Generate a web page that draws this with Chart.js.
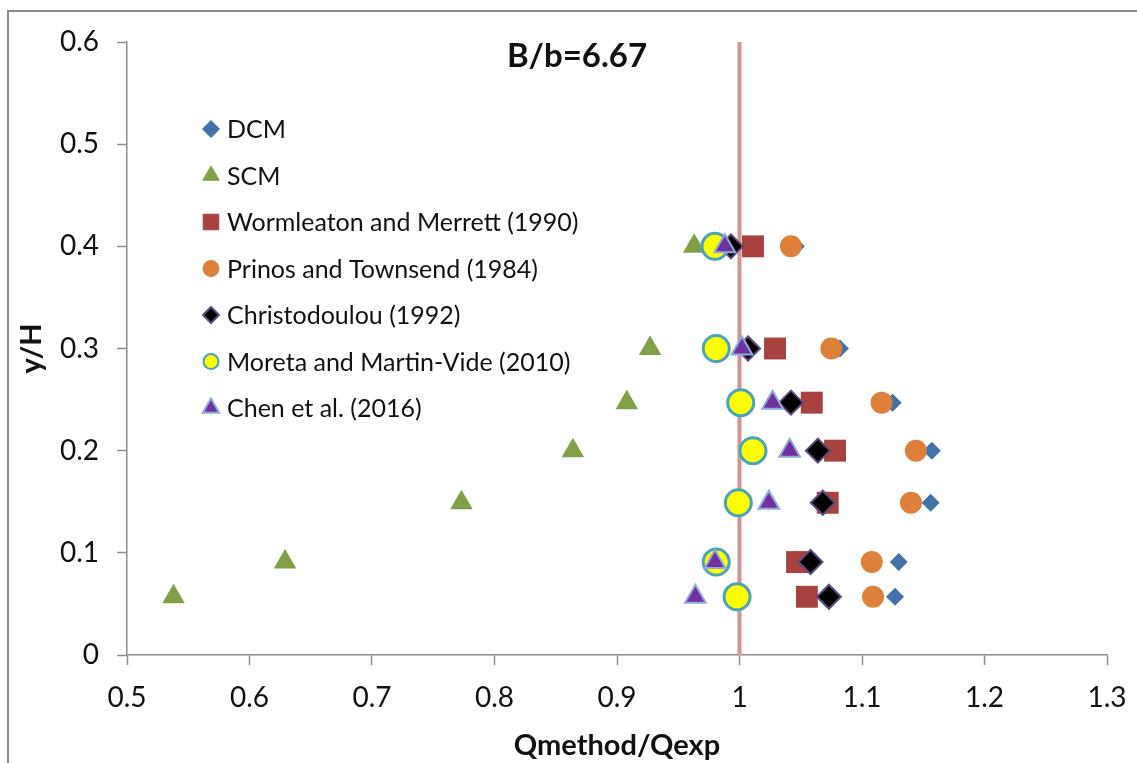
<!DOCTYPE html>
<html>
<head>
<meta charset="utf-8">
<script src="https://cdn.jsdelivr.net/npm/chart.js@4"></script>
<style>
  html, body { margin: 0; padding: 0; background: #fff; overflow: hidden; }
  #wrap { position: relative; width: 1137px; height: 763px; }
  #frame { position: absolute; left: 7px; top: 10px; width: 1200px; height: 800px; border: 2px solid #8c8c8c; box-sizing: border-box; }
  canvas { position: absolute; left: 0; top: 0; }
</style>
</head>
<body>
<div id="wrap">
  <div id="frame"></div>
  <canvas id="chart" width="1137" height="763"></canvas>
</div>
<script>
// y/H levels shared by all methods
const yLevels = [0.4, 0.3, 0.247, 0.2, 0.149, 0.091, 0.057];

// Qmethod/Qexp for each method, same order as yLevels
const dcm = [1.046, 1.082, 1.125, 1.157, 1.156, 1.130, 1.127];
const scm = [0.963, 0.927, 0.908, 0.864, 0.773, 0.629, 0.538];
const wormleaton = [1.011, 1.029, 1.059, 1.078, 1.072, 1.047, 1.055];
const prinos = [1.042, 1.075, 1.116, 1.144, 1.140, 1.108, 1.109];
const christodoulou = [0.993, 1.007, 1.042, 1.064, 1.068, 1.058, 1.073];
const moreta = [0.980, 0.981, 1.001, 1.011, 0.999, 0.981, 0.998];
const chen = [0.988, 1.002, 1.027, 1.041, 1.024, 0.980, 0.964];

const seriesNames = [
    'DCM',
    'SCM',
    'Wormleaton and Merrett (1990)',
    'Prinos and Townsend (1984)',
    'Christodoulou (1992)',
    'Moreta and Martin-Vide (2010)',
    'Chen et al. (2016)'
];

const xTickLabels = ['0.5', '0.6', '0.7', '0.8', '0.9', '1', '1.1', '1.2', '1.3'];
const yTickLabels = ['0', '0.1', '0.2', '0.3', '0.4', '0.5', '0.6'];

const refLine = [1, 1];      // Qmethod/Qexp = 1
const refLineY = [0, 0.6];

const toPoints = xs => xs.map((x, i) => ({ x: x, y: yLevels[i] }));

const AXIS = '#8c8c8c';
const FONT = 'Lato, "Open Sans", sans-serif';

const datasets = [
    { label: seriesNames[0], data: toPoints(dcm), pointStyle: 'rectRot', pointRadius: 9,
      backgroundColor: '#4372aa', borderColor: '#4372aa', borderWidth: 0, order: 7, legendSize: 8.5 },
    { label: seriesNames[1], data: toPoints(scm), pointStyle: 'triangle', pointRadius: 13,
      backgroundColor: '#7fa046', borderColor: '#7fa046', borderWidth: 0, order: 6, legendSize: 9.5 },
    { label: seriesNames[2], data: toPoints(wormleaton), pointStyle: 'rect', pointRadius: 15.5,
      backgroundColor: '#a7423f', borderColor: '#a7423f', borderWidth: 0, order: 5, legendSize: 11 },
    { label: seriesNames[3], data: toPoints(prinos), pointStyle: 'circle', pointRadius: 11,
      backgroundColor: '#de7f3a', borderColor: '#de7f3a', borderWidth: 0, order: 4, legendSize: 8 },
    { label: seriesNames[4], data: toPoints(christodoulou), pointStyle: 'rectRot', pointRadius: 12,
      backgroundColor: '#000000', borderColor: '#5f4a7c', borderWidth: 2, order: 3, legendSize: 8 },
    { label: seriesNames[5], data: toPoints(moreta), pointStyle: 'circle', pointRadius: 13,
      backgroundColor: '#ffff00', borderColor: '#4aa3bd', borderWidth: 3, order: 2, legendSize: 7.5 },
    { label: seriesNames[6], data: toPoints(chen), pointStyle: 'triangle', pointRadius: 12,
      backgroundColor: '#7030a0', borderColor: '#8eaadb', borderWidth: 2, order: 1, legendSize: 9.5 },
    { label: '', data: refLine.map((x, i) => ({ x: x, y: refLineY[i] })), showLine: true,
      pointRadius: 0, borderColor: '#d29595', borderWidth: 4, order: 20, isRef: true }
];

// legend drawn inside the plot, one row per series
const innerLegend = {
    id: 'innerLegend',
    afterDraw(chart) {
        const ctx = chart.ctx;
        ctx.save();
        ctx.font = '25px ' + FONT;
        ctx.textBaseline = 'middle';
        chart.data.datasets.forEach((ds, i) => {
            if (ds.isRef) return;
            const x = 211, y = 129 + i * 46.5;
            ctx.fillStyle = ds.backgroundColor;
            ctx.strokeStyle = ds.borderColor;
            ctx.lineWidth = ds.borderWidth ? Math.min(ds.borderWidth, 2) : 0;
            Chart.helpers.drawPoint(ctx, { pointStyle: ds.pointStyle, radius: ds.legendSize, rotation: 0,
                borderWidth: ctx.lineWidth }, x, y);
            ctx.fillStyle = '#111';
            ctx.fillText(ds.label, 227, y + 1);
        });
        ctx.restore();
    }
};

// chart heading
const heading = {
    id: 'heading',
    afterDraw(chart) {
        const ctx = chart.ctx;
        ctx.save();
        ctx.font = 'bold 33px ' + FONT;
        ctx.fillStyle = '#111';
        ctx.textAlign = 'center';
        ctx.textBaseline = 'middle';
        ctx.fillText('B/b=6.67', 577, 56);
        ctx.restore();
    }
};

new Chart(document.getElementById('chart'), {
    type: 'scatter',
    data: { datasets: datasets },
    plugins: [innerLegend, heading],
    options: {
        responsive: false,
        animation: false,
        layout: { padding: { left: 0, top: 42, right: 30, bottom: 0 } },
        plugins: { legend: { display: false }, tooltip: { enabled: false } },
        scales: {
            x: {
                type: 'linear', min: 0.5, max: 1.3,
                afterFit: s => { s.height = 108; s.paddingLeft = 0; s.paddingRight = 0; },
                ticks: {
                    stepSize: 0.1, padding: 16, color: '#111',
                    font: { family: FONT, size: 28 },
                    callback: (v, i) => xTickLabels[i]
                },
                grid: { drawOnChartArea: false, drawTicks: true, tickLength: 10, tickColor: AXIS, tickWidth: 1.5 },
                border: { color: AXIS, width: 1.5 },
                title: { display: true, text: 'Qmethod/Qexp', color: '#111',
                         font: { family: FONT, size: 29, weight: 'bold' }, padding: { top: 4, bottom: 0 } }
            },
            y: {
                type: 'linear', min: 0, max: 0.6,
                afterFit: s => { s.width = 127; s.paddingTop = 0; s.paddingBottom = 0; },
                ticks: {
                    stepSize: 0.1, padding: 18, color: '#111',
                    font: { family: FONT, size: 28 },
                    callback: (v, i) => yTickLabels[i]
                },
                grid: { drawOnChartArea: false, drawTicks: true, tickLength: 10, tickColor: AXIS, tickWidth: 1.5 },
                border: { color: AXIS, width: 1.5 },
                title: { display: true, text: 'y/H', color: '#111',
                         font: { family: FONT, size: 29, weight: 'bold' }, padding: { top: 14, bottom: 0 } }
            }
        }
    }
});
</script>
</body>
</html>
